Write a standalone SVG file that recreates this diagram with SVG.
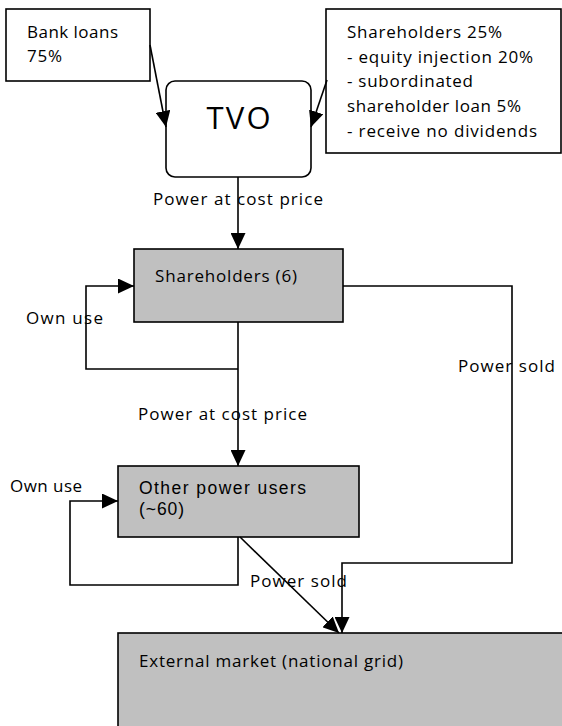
<svg xmlns="http://www.w3.org/2000/svg" width="562" height="726" viewBox="0 0 562 726">
<style>
text{font-family:"Open Sans","Liberation Sans",sans-serif;font-size:17px;fill:#000}
.tight{font-family:"Liberation Sans","Open Sans",sans-serif;font-size:17.5px}
.box{fill:#fff;stroke:#000;stroke-width:1.6}
.gray{fill:#c0c0c0;stroke:#000;stroke-width:1.6}
.ln{fill:none;stroke:#000;stroke-width:1.6}
</style>
<defs>
<marker id="ah" markerWidth="16" markerHeight="15" refX="16" refY="7.5" orient="auto" markerUnits="userSpaceOnUse">
<path d="M0,0 L16,7.5 L0,15 z" fill="#000"/>
</marker>
</defs>
<rect width="562" height="726" fill="#fff"/>
<g id="bank-loans">
<rect class="box" x="6" y="9" width="144" height="72"/>
<text><tspan x="27" y="38" textLength="91">Bank loans</tspan><tspan x="27" y="62" textLength="35">75%</tspan></text>
</g>
<g id="tvo">
<rect class="box" x="166" y="81" width="145" height="96" rx="9"/>
<text x="238.5" y="129" text-anchor="middle" style="font-size:31px" textLength="64">TVO</text>
</g>
<g id="shareholders-25">
<rect class="box" x="326" y="9" width="235" height="144"/>
<text><tspan x="347" y="38" textLength="155">Shareholders 25%</tspan><tspan x="347" y="63" textLength="186">- equity injection 20%</tspan><tspan x="347" y="87" textLength="126">- subordinated</tspan><tspan x="347" y="112" textLength="174">shareholder loan 5%</tspan><tspan x="347" y="137" textLength="190">- receive no dividends</tspan></text>
</g>
<g id="shareholders-6">
<rect class="gray" x="134" y="249" width="209" height="73"/>
<text x="155" y="282" textLength="142">Shareholders (6)</text>
</g>
<g id="other-users">
<rect class="gray" x="118" y="466" width="241" height="71"/>
<text class="tight"><tspan x="139" y="494" textLength="167">Other power users</tspan><tspan x="139" y="515" textLength="45">(~60)</tspan></text>
</g>
<g id="external-market">
<rect class="gray" x="118" y="633" width="460" height="110"/>
<text x="139" y="667" textLength="264">External market (national grid)</text>
</g>
<g id="connectors">
<line class="ln" x1="150" y1="45" x2="166" y2="127" marker-end="url(#ah)"/>
<line class="ln" x1="327" y1="80" x2="311" y2="127" marker-end="url(#ah)"/>
<line class="ln" x1="238" y1="177" x2="238" y2="249" marker-end="url(#ah)"/>
<line class="ln" x1="238" y1="322" x2="238" y2="466" marker-end="url(#ah)"/>
<polyline class="ln" points="238,369 86,369 86,286 134,286" marker-end="url(#ah)"/>
<polyline class="ln" points="238,537 238,585 70,585 70,501 118,501" marker-end="url(#ah)"/>
<polyline class="ln" points="343,286 512,286 512,563 342,563 342,633" marker-end="url(#ah)"/>
<line class="ln" x1="240" y1="537" x2="339" y2="633" marker-end="url(#ah)"/>
</g>
<g id="labels">
<text x="153" y="205" textLength="170">Power at cost price</text>
<text x="26" y="324" textLength="77">Own use</text>
<text x="458" y="372" textLength="97">Power sold</text>
<text x="138" y="420" textLength="169">Power at cost price</text>
<text x="10" y="492" textLength="72">Own use</text>
<text x="250" y="587" textLength="97">Power sold</text>
</g>
</svg>
